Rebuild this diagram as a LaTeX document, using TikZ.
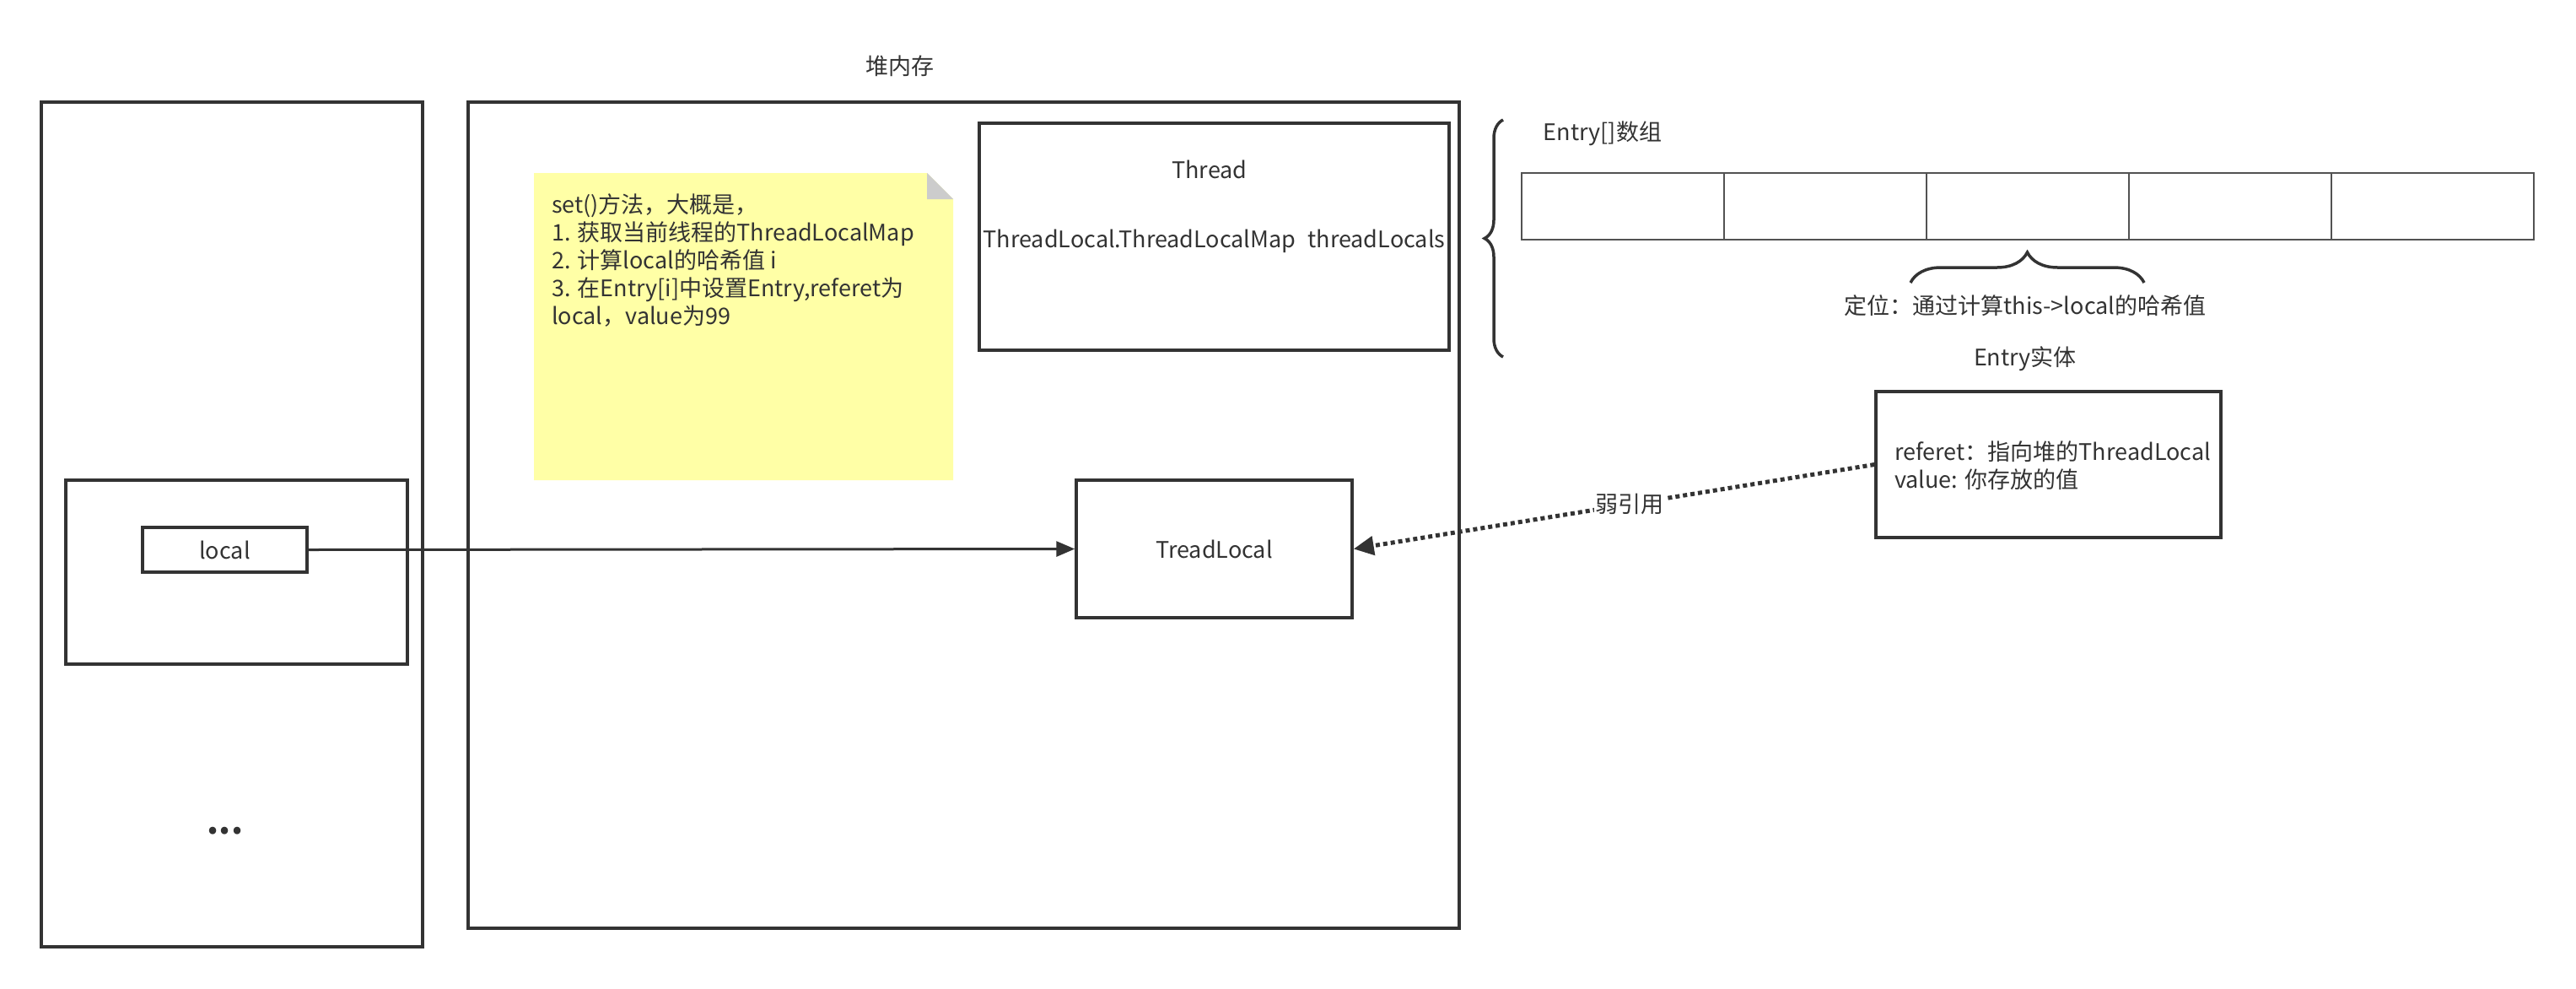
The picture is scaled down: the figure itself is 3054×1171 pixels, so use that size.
\documentclass[tikz,border=0pt]{standalone}
\usepackage{fontspec}
\setmainfont{Noto Sans CJK SC}
\usetikzlibrary{decorations.pathreplacing,arrows.meta}
\definecolor{ink}{HTML}{333333}
\definecolor{notefill}{HTML}{FFFFA6}
\definecolor{foldc}{HTML}{CCCCCC}
\begin{document}
\begin{tikzpicture}[x=1pt,y=-1pt,
  every node/.style={text=ink, font=\fontsize{27}{33}\selectfont},
  box/.style={draw=ink, line width=3.5pt, rectangle, inner sep=0pt},
  cell/.style={draw=ink!85, line width=2.5pt, rectangle, inner sep=0pt, minimum width=240pt, minimum height=79pt},
  plain/.style={inner sep=0pt},
  bracestyle/.style={draw=ink, line width=3.5pt, decorate},
  conn/.style={draw=ink, line width=3pt, -{Triangle[length=22pt,width=18pt]}},
  weak/.style={draw=ink, line width=5pt, dash pattern=on 5pt off 4pt, -{Triangle[length=24pt,width=22pt]}}]
\useasboundingbox (0,0) rectangle (3054,1171);
\fill[white] (0,0) rectangle (3054,1171);

% stack
\node[box, minimum width=452pt, minimum height=1001pt] (stack) at (275,621.5) {};
\node[box, minimum width=405pt, minimum height=218pt] (frame) at (280.5,678) {};
\node[box, minimum width=195pt, minimum height=53pt] (local) at (266.5,651.5) {local};
\node[plain, anchor=base, font=\fontsize{40}{40}\selectfont\bfseries] (dots) at (267,988) {...};

% heap
\node[plain] (heaplabel) at (1067,78) {堆内存};
\node[box, minimum width=1175pt, minimum height=979pt] (heap) at (1142.5,610.5) {};

% note
\fill[notefill] (633,205) -- (1099,205) -- (1130,236) -- (1130,569) -- (633,569) -- cycle;
\fill[foldc] (1099,205) -- (1130,236) -- (1099,236) -- cycle;
\node[plain, anchor=north west, align=left] (note) at (654,229)
  {set()方法，大概是，\\1. 获取当前线程的ThreadLocalMap\\2. 计算local的哈希值 i\\3. 在Entry[i]中设置Entry,referet为\\local，value为99};

% thread
\node[box, minimum width=557pt, minimum height=269pt] (thread) at (1439.5,280.5) {};
\node[plain] (threadt) at (1434,201) {Thread};
\node[plain] (threadf) at (1439.5,286) {ThreadLocal.ThreadLocalMap\hspace{14pt}threadLocals};

% treadlocal
\node[box, minimum width=327pt, minimum height=163pt] (tl) at (1439.5,650.5) {TreadLocal};

% big brace
\draw[bracestyle, decoration={brace, amplitude=22pt, aspect=0.5}] (1782,423) -- (1782,142);

% array
\node[plain] (arrlabel) at (1900,158) {Entry[]数组};
\node[cell] (c1) at (1924,244.5) {};
\node[cell] (c2) at (2164,244.5) {};
\node[cell] (c3) at (2404,244.5) {};
\node[cell] (c4) at (2644,244.5) {};
\node[cell] (c5) at (2884,244.5) {};

% small brace
\draw[bracestyle, decoration={brace, amplitude=36pt, aspect=0.5}] (2265,335) -- (2542,335);
\node[plain] (loc) at (2401,362) {定位：通过计算this->local的哈希值};
\node[plain] (entrylabel) at (2401,425) {Entry实体};

% entry
\node[box, minimum width=409pt, minimum height=173pt] (entry) at (2428.5,550.5) {};
\node[plain, anchor=west, align=left] (entryt) at (2246,552) {referet：指向堆的ThreadLocal\\value: 你存放的值};

% connectors
\draw[conn] (local.east) -- (tl.west);
\draw[weak] (entry.west) -- node[fill=white, inner sep=2pt, pos=0.47] (weaklabel) {弱引用} (tl.east);
\end{tikzpicture}
\end{document}
